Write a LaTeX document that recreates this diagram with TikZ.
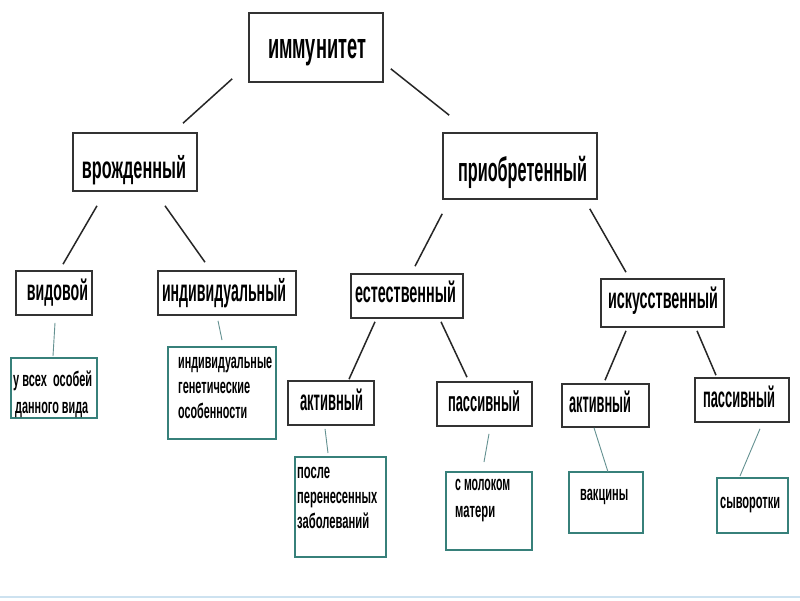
\documentclass[tikz,border=0pt]{standalone}
\usepackage{fontspec}
\setmainfont{Liberation Sans}
\usepackage{graphicx}
\usetikzlibrary{calc}
\definecolor{tealb}{RGB}{55,128,122}
\definecolor{thinc}{RGB}{100,145,145}
\definecolor{bluel}{RGB}{205,226,240}
\newcommand\sqz[3]{{\fontsize{#2}{#2}\selectfont\resizebox{#1pt}{\height}{#3}}}
\begin{document}
\begin{tikzpicture}[x=1pt,y=-1pt,
  bbox/.style={draw=black!80, line width=1.6pt, fill=white, inner sep=0},
  tbox/.style={draw=tealb, line width=2pt, fill=white, inner sep=0},
  big/.style={anchor=base, inner sep=0, font=\bfseries},
  small/.style={anchor=base west, inner sep=0, font=\bfseries},
  link/.style={line width=1.5pt, draw=black!85},
  thin/.style={line width=0.9pt, draw=thinc}]
\useasboundingbox (0,0) rectangle (800,600);
\fill[white] (0,0) rectangle (800,600);
\draw[bluel, line width=2pt] (0,597) -- (800,597);

% black boxes
\node[bbox, minimum width=134pt, minimum height=69pt] (imm) at (316,47.5) {};
\node[bbox, minimum width=124pt, minimum height=58pt] (vro) at (135,162) {};
\node[bbox, minimum width=154pt, minimum height=66pt] (pri) at (520,166) {};
\node[bbox, minimum width=76pt, minimum height=44pt] (vid) at (54,293) {};
\node[bbox, minimum width=138pt, minimum height=44pt] (ind) at (227,293) {};
\node[bbox, minimum width=112pt, minimum height=44pt] (est) at (407,296) {};
\node[bbox, minimum width=123pt, minimum height=48pt] (isk) at (662.5,303) {};
\node[bbox, minimum width=86pt, minimum height=44pt] (akA) at (331,403) {};
\node[bbox, minimum width=95pt, minimum height=44pt] (paA) at (484.5,404) {};
\node[bbox, minimum width=87pt, minimum height=43pt] (akB) at (605.5,405.5) {};
\node[bbox, minimum width=94pt, minimum height=44pt] (paB) at (742,400) {};

% labels
\node[big] (immt) at (317,58) {\sqz{98}{36}{иммунитет}};
\node[big] (vrot) at (134,178) {\sqz{104}{31}{врожденный}};
\node[big] (prit) at (522.5,181) {\sqz{129}{34}{приобретенный}};
\node[big] (vidt) at (57.5,300) {\sqz{61}{29}{видовой}};
\node[big] (indt) at (224,301) {\sqz{124}{31}{индивидуальный}};
\node[big] (estt) at (405.5,302) {\sqz{101}{29}{естественный}};
\node[big] (iskt) at (663,308) {\sqz{110}{29}{искусственный}};
\node[big] (akAt) at (331.5,410) {\sqz{63}{29}{активный}};
\node[big] (paAt) at (484,411) {\sqz{72}{28}{пассивный}};
\node[big] (akBt) at (600,412) {\sqz{62}{29}{активный}};
\node[big] (paBt) at (739,407) {\sqz{72}{29}{пассивный}};

% teal boxes
\node[tbox, minimum width=86pt, minimum height=60pt] (tA) at (54,388) {};
\node[tbox, minimum width=108pt, minimum height=92pt] (tB) at (222,393) {};
\node[tbox, minimum width=91pt, minimum height=100pt] (tC) at (340.5,507) {};
\node[tbox, minimum width=86pt, minimum height=78pt] (tD) at (489,511) {};
\node[tbox, minimum width=74pt, minimum height=61pt] (tE) at (606,502.5) {};
\node[tbox, minimum width=71pt, minimum height=55pt] (tF) at (752.5,505.5) {};

% teal texts
\node[small] (tA1) at (13,386) {\sqz{79}{21}{у всех\ \ особей}};
\node[small] (tA2) at (15,413) {\sqz{73}{21}{данного вида}};
\node[small] (tB1) at (178,368) {\sqz{94}{21}{индивидуальные}};
\node[small] (tB2) at (178,393) {\sqz{72}{21}{генетические}};
\node[small] (tB3) at (178,418) {\sqz{69}{21}{особенности}};
\node[small] (tC1) at (297,478) {\sqz{33}{21}{после}};
\node[small] (tC2) at (297,503) {\sqz{80}{21}{перенесенных}};
\node[small] (tC3) at (297,528) {\sqz{72}{21}{заболеваний}};
\node[small] (tD1) at (455,490) {\sqz{55}{21}{с молоком}};
\node[small] (tD2) at (455,517) {\sqz{40}{21}{матери}};
\node[small] (tE1) at (580,500) {\sqz{48}{21}{вакцины}};
\node[small] (tF1) at (720,508) {\sqz{60}{21}{сыворотки}};

% black connectors
\draw[link] ($(imm.south west)+(-16,-4)$) -- ($(vro.north)+(48,-9)$);
\draw[link] ($(imm.south east)+(7,-14)$) -- ($(pri.north west)+(7,-17)$);
\draw[link] ($(vro.south)+(-38,14)$) -- ($(vid.north)+(9,-6)$);
\draw[link] ($(vro.south)+(30,14)$) -- ($(ind.north)+(-22,-8)$);
\draw[link] ($(pri.south west)+(0,14)$) -- ($(est.north)+(8,-7)$);
\draw[link] ($(pri.south east)+(-8,9)$) -- ($(isk.north)+(-36.5,-6)$);
\draw[link] ($(est.south)+(-32,3)$) -- ($(akA.north)+(18,-1)$);
\draw[link] ($(est.south)+(34,3)$) -- ($(paA.north)+(-17.5,-4)$);
\draw[link] ($(isk.south)+(-36.5,3)$) -- ($(akB.north)+(-0.5,-3)$);
\draw[link] ($(isk.south)+(34.5,3)$) -- ($(paB.north)+(-26,-2)$);

% thin connectors
\draw[thin] ($(vid.south)+(1,7)$) -- ($(tA.north)+(-1,-1)$);
\draw[thin] ($(ind.south)+(-9,5)$) -- ($(tB.north)+(0,-6)$);
\draw[thin] ($(akA.south)+(-6,3)$) -- ($(tC.north)+(-12.5,-3)$);
\draw[thin] ($(paA.south)+(4.5,7)$) -- ($(tD.north)+(-5,-9)$);
\draw[thin] ($(akB.south)+(-11.5,0)$) -- ($(tE.north)+(2,1)$);
\draw[thin] ($(paB.south)+(18,6)$) -- ($(tF.north)+(-12.5,-1)$);
\end{tikzpicture}
\end{document}
